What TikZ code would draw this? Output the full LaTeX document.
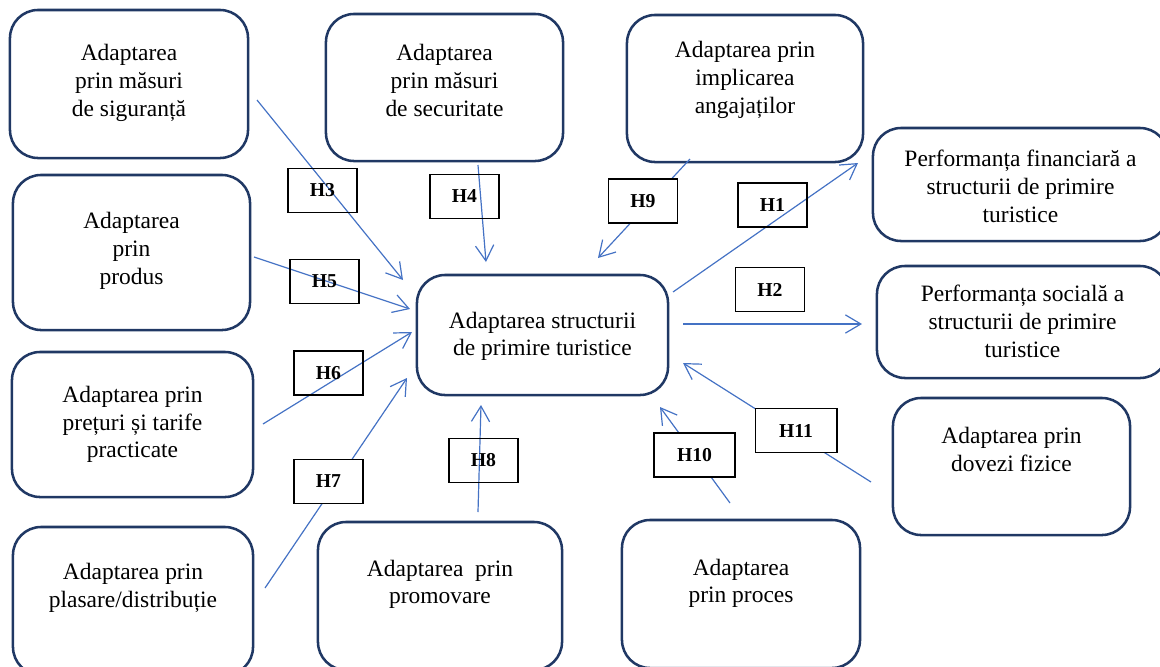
\documentclass[tikz,border=0pt]{standalone}
\usepackage{fontspec}
\setmainfont{Liberation Serif}
\usetikzlibrary{arrows.meta}
\definecolor{boxblue}{HTML}{203864}
\definecolor{arrowblue}{HTML}{4472C4}
\newcommand{\lines}[1]{\begin{tabular}[b]{@{}c@{}}#1\end{tabular}}
\begin{document}
\begin{tikzpicture}[x=0.025cm, y=-0.025cm, main node/.style={rectangle,rounded corners=20pt,draw=boxblue,line width=1.8pt,inner sep=0pt,text depth=5.85pt,font=\fontsize{16.7}{19.8}\selectfont}, hyp node/.style={rectangle,draw=black,line width=1.4pt,inner sep=0pt,minimum width=1.725cm,minimum height=1.1cm,font=\fontsize{14}{16}\selectfont\bfseries}, rel/.style={draw=arrowblue,line width=0.85pt,-{Straight Barb[length=11pt,width=13pt]}}]
\useasboundingbox (0,0) rectangle (1160,666);
\begin{scope}
\node[main node,minimum width=5.95cm,minimum height=3.7cm,text depth=7pt] (v1) at (129,84) {\lines{Adaptarea\\prin măsuri\\de siguranță}};
\node[main node,minimum width=5.925cm,minimum height=3.875cm,text depth=8pt] (v2) at (131.5,252.5) {\lines{Adaptarea\\prin\\produs}};
\node[main node,minimum width=6.025cm,minimum height=3.625cm] (v3) at (132.5,424.5) {\lines{Adaptarea prin\\prețuri și tarife\\practicate}};
\node[main node,minimum width=6cm,minimum height=3.7cm,text depth=24pt] (v4) at (133,601) {\lines{Adaptarea prin\\plasare/distribuție}};
\node[main node,minimum width=5.925cm,minimum height=3.675cm,text depth=12pt] (v5) at (444.5,87.5) {\lines{Adaptarea\\prin măsuri\\de securitate}};
\node[main node,minimum width=6.1cm,minimum height=3.7cm,text depth=22.5pt] (v6) at (440,596) {\lines{Adaptarea\ \ prin\\promovare}};
\node[main node,minimum width=5.9cm,minimum height=3.675cm,text depth=18pt] (v7) at (745,88.5) {\lines{Adaptarea prin\\implicarea\\angajaților}};
\node[main node,minimum width=5.95cm,minimum height=3.7cm,text depth=21pt] (v8) at (741,594) {\lines{Adaptarea\\prin proces}};
\node[main node,minimum width=7.375cm,minimum height=2.825cm,text depth=0pt] (v9) at (1020.5,184.5) {\lines{Performanța financiară a\\structurii de primire\\turistice}};
\node[main node,minimum width=7.275cm,minimum height=2.8cm,text depth=3pt] (v10) at (1022.5,322) {\lines{Performanța socială a\\structurii de primire\\turistice}};
\node[main node,minimum width=5.925cm,minimum height=3.425cm,text depth=27pt] (v11) at (1011.5,466.5) {\lines{Adaptarea prin\\dovezi fizice}};
\node[main node,minimum width=6.275cm,minimum height=3cm,text depth=4pt] (v0) at (542.5,335) {\lines{Adaptarea structurii\\de primire turistice}};
\end{scope}
%arrow ends
\coordinate (s1) at (673,292);  \coordinate (t1) at (858,163);
\coordinate (s2) at (683,324);  \coordinate (t2) at (862,324);
\coordinate (s3) at (257,100);  \coordinate (t3) at (403,280);
\coordinate (s4) at (478,165);  \coordinate (t4) at (486,262);
\coordinate (s5) at (254,257);  \coordinate (t5) at (410,309);
\coordinate (s6) at (263,424);  \coordinate (t6) at (412,332);
\coordinate (s7) at (265,588);  \coordinate (t7) at (407,378);
\coordinate (s8) at (478,512);  \coordinate (t8) at (481,405);
\coordinate (s9) at (690,159);  \coordinate (t9) at (598,258);
\coordinate (s10) at (730,503); \coordinate (t10) at (660,407);
\coordinate (s11) at (871,482); \coordinate (t11) at (683,363);
\begin{scope}
\draw[rel] (s1) -- (t1);
\draw[rel] (s2) -- (t2);
\draw[rel] (s3) -- (t3);
\draw[rel] (s4) -- (t4);
\draw[rel] (s5) -- (t5);
\draw[rel] (s6) -- (t6);
\draw[rel] (s7) -- (t7);
\draw[rel] (s8) -- (t8);
\draw[rel] (s9) -- (t9);
\draw[rel] (s10) -- (t10);
\draw[rel] (s11) -- (t11);
\end{scope}
\begin{scope}
\node[hyp node] (h1) at (772.5,205) {H1};
\node[hyp node] (h2) at (770,289.5) {H2};
\node[hyp node] (h3) at (322.5,190.5) {H3};
\node[hyp node] (h4) at (464.5,196.5) {H4};
\node[hyp node] (h5) at (324.5,281.5) {H5};
\node[hyp node] (h6) at (328.5,373) {H6};
\node[hyp node,fill=white] (h7) at (328.5,481.5) {H7};
\node[hyp node] (h8) at (483.5,460.5) {H8};
\node[hyp node,fill=white] (h9) at (643,201) {H9};
\node[hyp node,fill=white,minimum width=2.025cm] (h10) at (694.5,455) {H10};
\node[hyp node,fill=white,minimum width=2.025cm] (h11) at (796,430.5) {H11};
\end{scope}
\end{tikzpicture}
\end{document}
